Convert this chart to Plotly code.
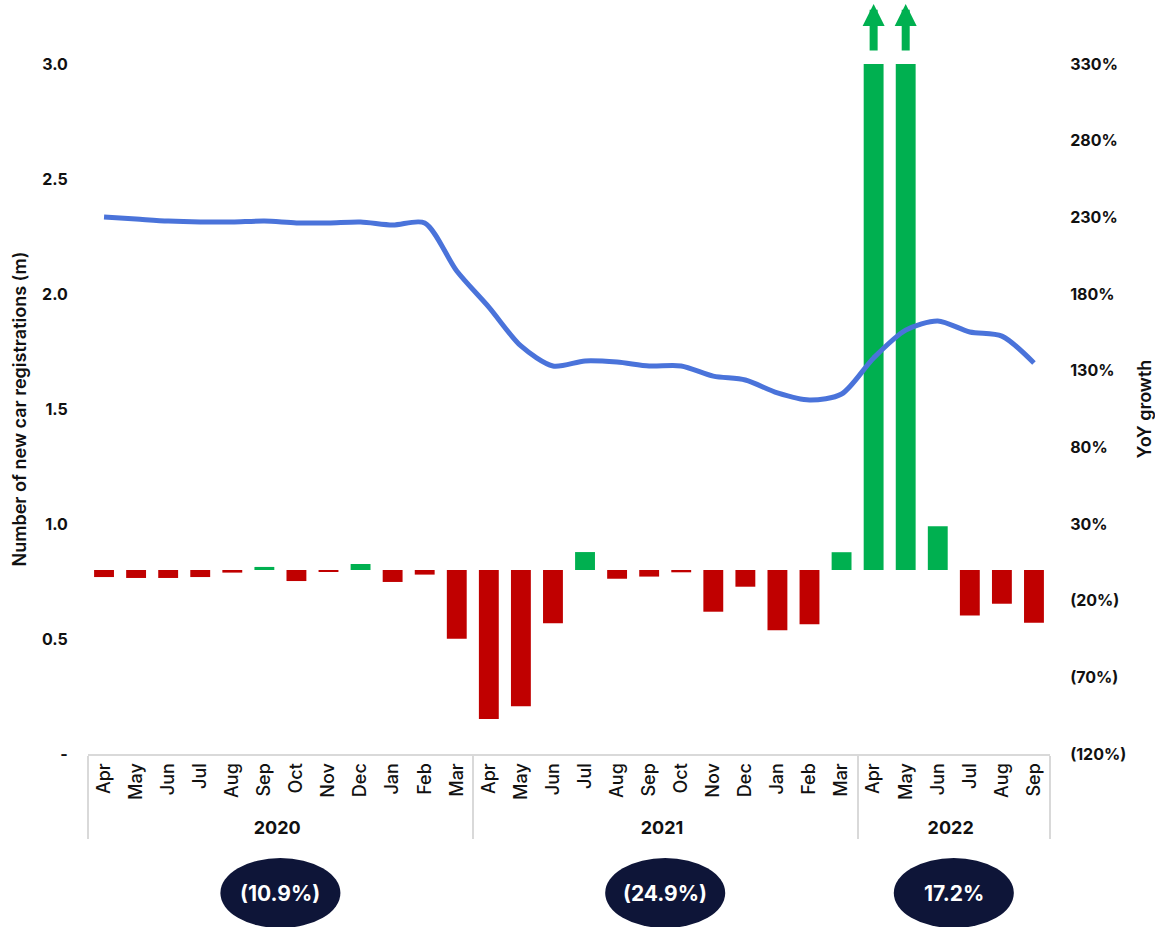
import plotly.graph_objects as go

# Fiscal years (Apr-Mar) and month labels
fiscal_years = ["2020"] * 12 + ["2021"] * 12 + ["2022"] * 6
months = (["Apr", "May", "Jun", "Jul", "Aug", "Sep", "Oct", "Nov", "Dec", "Jan", "Feb", "Mar"] * 2
          + ["Apr", "May", "Jun", "Jul", "Aug", "Sep"])

# Rolling 12-month new car registrations (millions)
registrations_m = [2.335, 2.326, 2.317, 2.313, 2.313, 2.317, 2.309, 2.309, 2.313, 2.300, 2.309, 2.100,
                   1.943, 1.774, 1.687, 1.709, 1.704, 1.687, 1.687, 1.643, 1.626, 1.570, 1.539, 1.565,
                   1.722, 1.843, 1.883, 1.835, 1.817, 1.700]

# Monthly year-on-year growth (%)
yoy_growth_pct = [-4.6, -5.2, -5.2, -4.6, -1.7, 2.0, -7.2, -1.3, 3.9, -7.8, -3.0, -44.8,
                  -97.2, -88.9, -34.8, 11.7, -5.7, -4.3, -1.5, -27.2, -10.9, -39.3, -35.4, 11.6,
                  3033.4, 609.9, 28.5, -29.6, -22.0, -34.4]

# Full fiscal-year growth
fy_labels = ["2020", "2021", "2022"]
fy_growth_pct = [-10.9, -24.9, 17.2]

# Axis ticks
left_tickvals = [0, 0.5, 1.0, 1.5, 2.0, 2.5, 3.0]
left_ticktext = ["-", "0.5", "1.0", "1.5", "2.0", "2.5", "3.0"]
right_min, right_max = -120, 330
right_tickvals = list(range(right_min, right_max + 1, 50))

GREEN = "#00B050"
RED = "#C00000"
BLUE = "#4A73DA"
NAVY = "#0E1538"
TEXT = "#111111"
FONT = "Inter"


def fmt_pct(v, decimals=0):
    s = f"{abs(v):.{decimals}f}%"
    return f"({s})" if v < 0 else s


right_ticktext = [fmt_pct(v) for v in right_tickvals]
x = [[f"<b>{fy}</b>" for fy in fiscal_years], months]
bar_colors = [GREEN if v >= 0 else RED for v in yoy_growth_pct]

fig = go.Figure()
fig.add_trace(go.Bar(x=x, y=yoy_growth_pct, marker=dict(color=bar_colors, line=dict(width=0)),
                     width=0.62, yaxis="y", showlegend=False))
fig.add_trace(go.Scatter(x=x, y=registrations_m, mode="lines", yaxis="y2", showlegend=False,
                         line=dict(color=BLUE, width=5, shape="spline", smoothing=0.8)))

tick_font = dict(family=FONT, size=16, color=TEXT, weight=700)
title_font = dict(family=FONT, size=18, color=TEXT, weight=600)

fig.update_layout(
    width=1155, height=927,
    margin=dict(l=88, r=105, t=64, b=173),
    paper_bgcolor="white", plot_bgcolor="white",
    font=dict(family=FONT, color=TEXT),
    xaxis=dict(type="multicategory", showline=True, linecolor="#D9D9D9", linewidth=2,
               showgrid=False, ticks="", tickangle=-90, automargin=False,
               tickfont=dict(family=FONT, size=18, color=TEXT, weight=500),
               showdividers=True, dividercolor="#D9D9D9", dividerwidth=2),
    yaxis=dict(side="right", range=[right_min, right_max], tickvals=right_tickvals,
               ticktext=right_ticktext, showgrid=False, zeroline=False, showline=False,
               ticks="outside", ticklen=16, tickcolor="rgba(0,0,0,0)", tickfont=tick_font,
               automargin=False,
               title=dict(text="YoY growth", standoff=16, font=title_font)),
    yaxis2=dict(overlaying="y", side="left", range=[0, 3], tickvals=left_tickvals,
                ticktext=left_ticktext, showgrid=False, zeroline=False, showline=False,
                ticks="outside", ticklen=16, tickcolor="rgba(0,0,0,0)", tickfont=tick_font,
                automargin=False,
                title=dict(text="Number of new car registrations (m)", standoff=10,
                           font=title_font)),
)

# Fiscal-year growth badges below each year group
n = len(months)
start = 0
for fy, g in zip(fy_labels, fy_growth_pct):
    count = fiscal_years.count(fy)
    cx = (start + count / 2) / n
    start += count
    fig.add_shape(type="circle", xref="paper", yref="paper",
                  x0=cx - 0.0624, x1=cx + 0.0624, y0=-0.2522, y1=-0.1507,
                  fillcolor=NAVY, line=dict(width=0))
    fig.add_annotation(xref="paper", yref="paper", x=cx, y=-0.2015,
                       xanchor="center", yanchor="middle", showarrow=False,
                       text=f"<b>{fmt_pct(g, 1)}</b>",
                       font=dict(family=FONT, size=21, color="white"))

# Arrows above bars that run off the top of the scale
for i, v in enumerate(yoy_growth_pct):
    if v > right_max:
        fig.add_annotation(xref="paper", yref="paper", x=(i + 0.5) / n, y=1.087,
                           text="", showarrow=True, ax=0, ay=48, arrowcolor=GREEN,
                           arrowwidth=8, arrowhead=2, arrowsize=0.55)

fig.write_html("out.html")
